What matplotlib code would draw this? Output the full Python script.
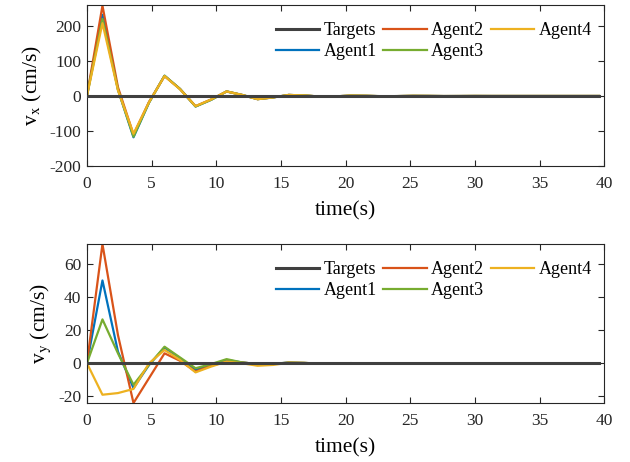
import numpy as np
import matplotlib
matplotlib.use('Agg')
import matplotlib.pyplot as plt

plt.rcParams['font.family'] = ['Liberation Serif', 'DejaVu Serif']
plt.rcParams['mathtext.fontset'] = 'stix'
plt.rcParams['axes.unicode_minus'] = False

# data, sampled every 1.2 s
dt = 1.2
vx_agent1 = [0, 232, 18, -118, -19, 58, 20, -30, -11, 13, 3, -9, -4, 3, 1.5, -1.5, -1, 1,
             0.5, -0.6, -0.3, 0.4, 0.2, -0.2, -0.1, 0.1, 0, 0, 0, 0, 0, 0, 0, 0]
vx_agent2 = [0, 258, 25, -110, -17, 57, 20, -29, -10, 13, 3, -9, -4, 3, 1.5, -1.5, -1, 1,
             0.5, -0.6, -0.3, 0.4, 0.2, -0.2, -0.1, 0.1, 0, 0, 0, 0, 0, 0, 0, 0]
vx_agent3 = [0, 220, 18, -116, -19, 58, 20, -30, -11, 13, 3, -9, -4, 3, 1.5, -1.5, -1, 1,
             0.5, -0.6, -0.3, 0.4, 0.2, -0.2, -0.1, 0.1, 0, 0, 0, 0, 0, 0, 0, 0]
vx_agent4 = [0, 208, 16, -108, -18, 57, 19, -29, -10, 13, 3, -9, -4, 3, 1.5, -1.5, -1, 1,
             0.5, -0.6, -0.3, 0.4, 0.2, -0.2, -0.1, 0.1, 0, 0, 0, 0, 0, 0, 0, 0]

vy_agent1 = [0, 50, 7, -15, -1, 9.5, 3, -4, -1, 2, 0.5, -0.5, -0.3, 0.4, 0.2, -0.2, -0.1,
             0.1, 0, 0, 0, 0, 0, 0, 0, 0, 0, 0, 0, 0, 0, 0, 0, 0]
vy_agent2 = [0, 72, 17, -24, -9, 6, 1.5, -5, -1.5, 1, 0.5, -0.5, -0.4, 0.4, 0.2, -0.2, -0.1,
             0.1, 0, 0, 0, 0, 0, 0, 0, 0, 0, 0, 0, 0, 0, 0, 0, 0]
vy_agent3 = [0, 26.5, 6, -13, -1, 10, 3.5, -3, -0.5, 2.5, 0.5, -0.5, -0.3, 0.4, 0.2, -0.2, -0.1,
             0.1, 0, 0, 0, 0, 0, 0, 0, 0, 0, 0, 0, 0, 0, 0, 0, 0]
vy_agent4 = [0, -19, -18, -15.5, 0, 8, 2, -5.5, -2, 1, 0, -1.5, -1, 0.3, 0.2, -0.2, -0.1,
             0.1, 0, 0, 0, 0, 0, 0, 0, 0, 0, 0, 0, 0, 0, 0, 0, 0]

t = np.arange(len(vx_agent1)) * dt
targets = np.zeros(len(t))

colors = ['#0072BD', '#D95319', '#77AC30', '#EDB120']
names = ['Agent1', 'Agent2', 'Agent3', 'Agent4']

fig = plt.figure(figsize=(6.3, 4.62), dpi=100)
ax1 = fig.add_axes([0.138, 0.6407, 0.821, 0.3485])
ax2 = fig.add_axes([0.138, 0.1277, 0.821, 0.344])

panels = [
    (ax1, [vx_agent1, vx_agent2, vx_agent3, vx_agent4], r'v$_{\mathrm{x}}$ (cm/s)',
     (-200, 260), [-200, -100, 0, 100, 200]),
    (ax2, [vy_agent1, vy_agent2, vy_agent3, vy_agent4], r'v$_{\mathrm{y}}$ (cm/s)',
     (-24, 72), [-20, 0, 20, 40, 60]),
]

for ax, series, ylab, ylim, yticks in panels:
    h_t, = ax.plot(t, targets, color='#404040', lw=2.2, zorder=5, label='Targets')
    handles = [h_t]
    for vals, c, n in zip(series, colors, names):
        h, = ax.plot(t, vals, color=c, lw=1.6, label=n)
        handles.append(h)
    ax.set_xlim(0, 40)
    ax.set_ylim(*ylim)
    ax.set_xticks(range(0, 41, 5))
    ax.set_yticks(yticks)
    ax.tick_params(direction='in', top=True, right=True, labelsize=12.5,
                   length=4, width=0.8, colors='#262626')
    ax.tick_params(axis='x', pad=7)
    ax.tick_params(axis='y', pad=4)
    for sp in ax.spines.values():
        sp.set_color('#262626')
        sp.set_linewidth(0.8)
    ax.set_xlabel('time(s)', fontsize=15.5, labelpad=7)
    ax.set_ylabel(ylab, fontsize=15.5, labelpad=4)
    ax.legend(handles=handles, ncol=3, loc='upper right', frameon=False,
              bbox_to_anchor=(1.0, 0.97),
              fontsize=13, handlelength=2.4, columnspacing=0.35, handletextpad=0.25,
              labelspacing=0.2, borderaxespad=0.3)

fig.savefig('out.png', dpi=100)
